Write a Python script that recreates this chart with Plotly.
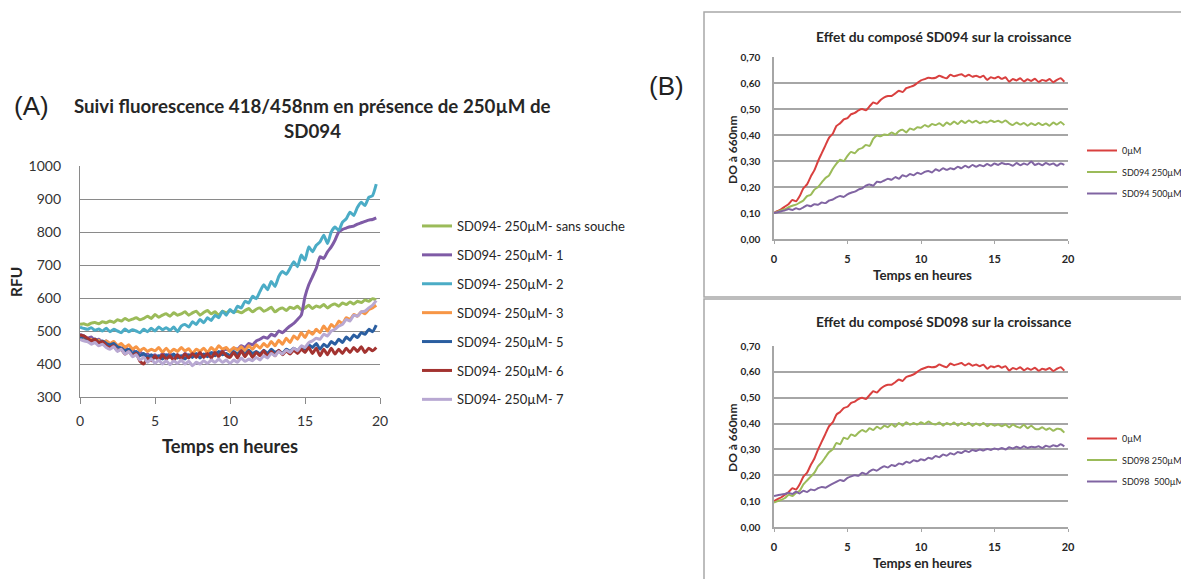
import plotly.graph_objects as go

W, H = 1189, 579

# ---------------- data ----------------
hours = [i * 0.25 for i in range(80)]

# Panel A : RFU
rfu_sans_souche = [520, 522, 518, 524, 526, 522, 528, 525,
                   530, 526, 534, 530, 538, 532, 536, 540,
                   534, 538, 545, 538, 550, 542, 548, 552,
                   545, 555, 548, 552, 558, 548, 555, 560,
                   548, 556, 562, 552, 558, 548, 560, 555,
                   562, 558, 560, 555, 562, 568, 558, 566,
                   570, 560, 565, 572, 558, 566, 570, 562,
                   572, 568, 575, 565, 570, 578, 568, 576,
                   572, 580, 570, 578, 582, 575, 585, 580,
                   588, 582, 590, 586, 594, 590, 598, 594]
rfu_1 = [490, 485, 478, 482, 470, 475, 465, 470,
         460, 465, 455, 448, 452, 440, 445, 432,
         438, 425, 430, 422, 428, 420, 432, 425,
         430, 422, 428, 420, 432, 425, 430, 428,
         432, 425, 435, 430, 438, 432, 440, 445,
         440, 448, 445, 455, 450, 462, 458, 470,
         475, 482, 478, 490, 485, 500, 495, 505,
         515, 523, 535, 548, 604, 640, 665, 690,
         725, 720, 740, 755, 775, 800, 808, 812,
         816, 818, 824, 828, 832, 836, 838, 843]
rfu_2 = [512, 508, 505, 510, 502, 506, 500, 508,
         498, 505, 500, 495, 506, 498, 504, 500,
         495, 505, 498, 508, 500, 512, 504, 510,
         502, 512, 498, 515, 520, 512, 528, 520,
         535, 525, 540, 532, 548, 540, 560, 548,
         565, 555, 575, 570, 590, 585, 605, 598,
         620, 640, 625, 650, 635, 665, 680, 672,
         690, 710, 695, 730, 715, 755, 740, 760,
         770, 790, 765, 800, 815, 805, 830, 840,
         860, 850, 875, 890, 880, 905, 910, 945]
rfu_3 = [482, 478, 470, 475, 468, 472, 465, 470,
         462, 468, 455, 462, 450, 458, 445, 452,
         440, 448, 438, 445, 440, 450, 436, 448,
         435, 445, 438, 450, 440, 446, 432, 445,
         438, 448, 435, 450, 440, 455, 445, 450,
         438, 450, 442, 452, 440, 455, 445, 458,
         448, 462, 452, 468, 455, 472, 460, 478,
         465, 485, 475, 495, 480, 500, 490, 505,
         495, 515, 500, 520, 510, 530, 522, 540,
         535, 550, 545, 558, 552, 565, 570, 578]
rfu_5 = [478, 482, 475, 470, 476, 465, 470, 462,
         458, 462, 452, 448, 440, 445, 432, 438,
         425, 432, 420, 428, 418, 425, 415, 428,
         420, 430, 418, 425, 415, 428, 420, 432,
         418, 430, 422, 435, 425, 438, 428, 432,
         425, 438, 430, 440, 428, 442, 432, 438,
         430, 442, 432, 445, 435, 440, 432, 445,
         438, 448, 440, 452, 445, 458, 450, 462,
         445, 460, 452, 468, 460, 475, 465, 482,
         472, 488, 480, 495, 490, 505, 498, 518]
rfu_6 = [488, 485, 478, 470, 475, 465, 468, 455,
         450, 455, 440, 445, 430, 438, 425, 432,
         408, 400, 418, 410, 425, 412, 428, 415,
         425, 410, 428, 415, 430, 418, 432, 420,
         435, 420, 432, 418, 435, 422, 438, 425,
         420, 435, 418, 440, 422, 438, 420, 435,
         425, 440, 422, 438, 425, 442, 428, 440,
         430, 442, 432, 445, 435, 450, 432, 448,
         425, 445, 428, 448, 430, 445, 432, 448,
         435, 450, 438, 452, 435, 448, 440, 450]
rfu_7 = [475, 470, 468, 460, 465, 455, 460, 450,
         445, 452, 438, 445, 430, 438, 422, 428,
         412, 420, 405, 415, 402, 412, 400, 410,
         398, 410, 402, 412, 400, 408, 395, 405,
         400, 410, 402, 412, 405, 415, 405, 412,
         402, 412, 405, 418, 408, 415, 410, 420,
         412, 425, 418, 432, 425, 438, 430, 442,
         435, 448, 440, 455, 450, 465, 470, 478,
         475, 490, 485, 500, 505, 515, 520, 535,
         530, 548, 545, 558, 560, 570, 578, 592]

series_a_names = ["SD094- 250µM- sans souche", "SD094- 250µM- 1", "SD094- 250µM- 2",
                  "SD094- 250µM- 3", "SD094- 250µM- 5", "SD094- 250µM- 6", "SD094- 250µM- 7"]
series_a_values = [rfu_sans_souche, rfu_1, rfu_2, rfu_3, rfu_5, rfu_6, rfu_7]
series_a_colors = ["#9BBB59", "#7F5BA6", "#4BACC6", "#F79646", "#2A5EA0", "#A33330", "#B8A8D2"]

# Panel B : DO 660nm
do_0uM = [0.100, 0.108, 0.115, 0.125, 0.135, 0.150, 0.145, 0.165,
          0.195, 0.210, 0.240, 0.265, 0.300, 0.330, 0.360, 0.390,
          0.405, 0.435, 0.445, 0.460, 0.465, 0.480, 0.485, 0.495,
          0.500, 0.495, 0.510, 0.525, 0.520, 0.535, 0.545, 0.550,
          0.550, 0.560, 0.570, 0.565, 0.580, 0.585, 0.590, 0.600,
          0.610, 0.615, 0.620, 0.618, 0.620, 0.628, 0.622, 0.618,
          0.632, 0.626, 0.630, 0.634, 0.625, 0.632, 0.624, 0.628,
          0.622, 0.628, 0.612, 0.622, 0.618, 0.624, 0.616, 0.622,
          0.605, 0.615, 0.610, 0.618, 0.606, 0.614, 0.608, 0.616,
          0.604, 0.612, 0.608, 0.615, 0.603, 0.612, 0.618, 0.605]
do_sd094_250 = [0.100, 0.105, 0.110, 0.115, 0.122, 0.128, 0.132, 0.140,
                0.148, 0.165, 0.170, 0.190, 0.200, 0.218, 0.235, 0.245,
                0.270, 0.290, 0.305, 0.300, 0.320, 0.335, 0.330, 0.345,
                0.350, 0.362, 0.358, 0.385, 0.398, 0.395, 0.402, 0.400,
                0.410, 0.402, 0.415, 0.420, 0.410, 0.425, 0.420, 0.430,
                0.428, 0.438, 0.432, 0.442, 0.438, 0.445, 0.435, 0.448,
                0.440, 0.452, 0.442, 0.455, 0.446, 0.456, 0.448, 0.455,
                0.445, 0.452, 0.448, 0.456, 0.450, 0.455, 0.448, 0.456,
                0.445, 0.438, 0.448, 0.440, 0.446, 0.436, 0.445, 0.438,
                0.446, 0.438, 0.444, 0.436, 0.448, 0.440, 0.450, 0.438]
do_sd094_500 = [0.100, 0.103, 0.107, 0.110, 0.115, 0.112, 0.118, 0.114,
                0.122, 0.130, 0.126, 0.134, 0.132, 0.140, 0.138, 0.148,
                0.152, 0.160, 0.165, 0.162, 0.172, 0.178, 0.182, 0.190,
                0.195, 0.205, 0.210, 0.205, 0.220, 0.218, 0.225, 0.232,
                0.228, 0.238, 0.232, 0.245, 0.240, 0.250, 0.245, 0.255,
                0.250, 0.258, 0.262, 0.256, 0.268, 0.262, 0.272, 0.266,
                0.272, 0.268, 0.278, 0.272, 0.282, 0.275, 0.285, 0.278,
                0.285, 0.280, 0.288, 0.282, 0.290, 0.285, 0.292, 0.288,
                0.288, 0.282, 0.292, 0.284, 0.290, 0.286, 0.298, 0.285,
                0.290, 0.284, 0.292, 0.286, 0.290, 0.282, 0.290, 0.285]
do_sd098_250 = [0.095, 0.100, 0.105, 0.112, 0.125, 0.120, 0.132, 0.140,
                0.165, 0.180, 0.195, 0.210, 0.235, 0.250, 0.270, 0.290,
                0.300, 0.325, 0.320, 0.345, 0.340, 0.358, 0.352, 0.365,
                0.375, 0.368, 0.382, 0.375, 0.388, 0.380, 0.392, 0.386,
                0.398, 0.388, 0.402, 0.392, 0.405, 0.395, 0.402, 0.396,
                0.405, 0.398, 0.408, 0.400, 0.396, 0.404, 0.392, 0.402,
                0.395, 0.404, 0.392, 0.402, 0.394, 0.403, 0.391, 0.400,
                0.393, 0.402, 0.390, 0.398, 0.392, 0.396, 0.390, 0.396,
                0.385, 0.396, 0.388, 0.384, 0.395, 0.382, 0.392, 0.380,
                0.378, 0.386, 0.376, 0.382, 0.372, 0.380, 0.378, 0.365]
do_sd098_500 = [0.120, 0.123, 0.126, 0.128, 0.132, 0.128, 0.136, 0.130,
                0.140, 0.135, 0.145, 0.142, 0.150, 0.155, 0.152, 0.160,
                0.168, 0.175, 0.182, 0.178, 0.190, 0.196, 0.200, 0.198,
                0.210, 0.204, 0.215, 0.222, 0.218, 0.228, 0.235, 0.230,
                0.240, 0.236, 0.246, 0.242, 0.252, 0.248, 0.258, 0.254,
                0.262, 0.258, 0.268, 0.264, 0.275, 0.270, 0.280, 0.276,
                0.285, 0.280, 0.290, 0.286, 0.295, 0.290, 0.298, 0.294,
                0.300, 0.296, 0.302, 0.298, 0.304, 0.300, 0.306, 0.300,
                0.308, 0.304, 0.310, 0.305, 0.312, 0.306, 0.310, 0.308,
                0.312, 0.306, 0.314, 0.310, 0.316, 0.312, 0.320, 0.312]

b_top_names = ["0µM", "SD094 250µM", "SD094 500µM"]
b_top_values = [do_0uM, do_sd094_250, do_sd094_500]
b_bot_names = ["0µM", "SD098 250µM", "SD098  500µM"]
b_bot_values = [do_0uM, do_sd098_250, do_sd098_500]
b_colors = ["#D9403F", "#9BBB59", "#8064A2"]

# ---------------- figure ----------------
PAGE_OFFSET = 8  # default body margin of the html page


def fx(x):
    return (x - PAGE_OFFSET) / W


def fy(y):
    return 1 - (y - PAGE_OFFSET) / H


FONT = "Lato, 'Open Sans', sans-serif"
fig = go.Figure()

for name, vals, col in zip(series_a_names, series_a_values, series_a_colors):
    fig.add_trace(go.Scatter(x=hours, y=vals, name=name, mode="lines",
                             line=dict(color=col, width=3, shape="spline", smoothing=0.5),
                             xaxis="x", yaxis="y", legend="legend", legendgroup=name))
for name, vals, col in zip(b_top_names, b_top_values, b_colors):
    fig.add_trace(go.Scatter(x=hours, y=vals, name=name, mode="lines",
                             line=dict(color=col, width=2, shape="spline", smoothing=0.5),
                             xaxis="x2", yaxis="y2", legend="legend2", legendgroup="t" + name))
for name, vals, col in zip(b_bot_names, b_bot_values, b_colors):
    fig.add_trace(go.Scatter(x=hours, y=vals, name=name, mode="lines",
                             line=dict(color=col, width=2, shape="spline", smoothing=0.5),
                             xaxis="x3", yaxis="y3", legend="legend3", legendgroup="b" + name))

axis_common_x = dict(range=[0, 20], dtick=5, showgrid=False, zeroline=False, showline=True,
                     ticks="outside", fixedrange=True)
axis_common_y = dict(showgrid=True, zeroline=False, showline=True, ticks="", fixedrange=True)
BOLD_TICK_B = dict(size=10, color="#262626", family=FONT, weight="bold")

fig.update_layout(
    width=W, height=H, margin=dict(l=0, r=0, t=0, b=0, autoexpand=False),
    paper_bgcolor="white", plot_bgcolor="white",
    separators=", ",
    font=dict(family=FONT, color="#262626"),
    xaxis=dict(domain=[fx(80), fx(380)], anchor="y", linecolor="#8A8A8A", linewidth=1.3,
               tickcolor="#8A8A8A", ticklen=6, tickwidth=1.3, ticklabelstandoff=5,
               tickfont=dict(size=14, color="#333333"), **axis_common_x),
    yaxis=dict(domain=[fy(397), fy(166)], anchor="x", range=[300, 1000], dtick=100,
               gridcolor="#8A8A8A", gridwidth=1.3, linecolor="#8A8A8A", linewidth=1.3,
               ticklabelstandoff=15, tickfont=dict(size=14, color="#333333"), **axis_common_y),
    xaxis2=dict(domain=[fx(774), fx(1068)], anchor="y2", linecolor="#A6A6A6", linewidth=1.5,
                tickcolor="#A6A6A6", ticklen=3, ticklabelstandoff=6,
                tickfont=dict(size=11, color="#262626", family=FONT, weight="bold"), **axis_common_x),
    yaxis2=dict(domain=[fy(239), fy(57)], anchor="x2", range=[0, 0.70], dtick=0.1, tickformat=".2f",
                gridcolor="#A6A6A6", gridwidth=1.6, linecolor="#A6A6A6", linewidth=1.5,
                ticklabelstandoff=10, tickfont=BOLD_TICK_B, **axis_common_y),
    xaxis3=dict(domain=[fx(774), fx(1068)], anchor="y3", linecolor="#A6A6A6", linewidth=1.5,
                tickcolor="#A6A6A6", ticklen=3, ticklabelstandoff=6,
                tickfont=dict(size=11, color="#262626", family=FONT, weight="bold"), **axis_common_x),
    yaxis3=dict(domain=[fy(527), fy(346)], anchor="x3", range=[0, 0.70], dtick=0.1, tickformat=".2f",
                gridcolor="#A6A6A6", gridwidth=1.6, linecolor="#A6A6A6", linewidth=1.5,
                ticklabelstandoff=10, tickfont=BOLD_TICK_B, **axis_common_y),
    legend=dict(x=fx(417), y=fy(211), xanchor="left", yanchor="top", bgcolor="rgba(0,0,0,0)",
                font=dict(size=13, color="#262626"), tracegroupgap=9.0, itemwidth=30),
    legend2=dict(x=fx(1082), y=fy(136), xanchor="left", yanchor="top", bgcolor="rgba(0,0,0,0)",
                 font=dict(size=9, color="#262626"), tracegroupgap=2.5, itemwidth=30),
    legend3=dict(x=fx(1082), y=fy(424), xanchor="left", yanchor="top", bgcolor="rgba(0,0,0,0)",
                 font=dict(size=9, color="#262626"), tracegroupgap=2.5, itemwidth=30),
    showlegend=True,
)

# boxes around panel B charts
fig.add_shape(type="rect", xref="paper", yref="paper", x0=fx(704), x1=fx(1200), y0=fy(297), y1=fy(12),
              line=dict(color="#A8A8A8", width=1.5))
fig.add_shape(type="rect", xref="paper", yref="paper", x0=fx(704), x1=fx(1200), y0=fy(595), y1=fy(299),
              line=dict(color="#A8A8A8", width=1.5))


def ann(x, y, text, size, bold=False, angle=0, color="#262626", family=FONT):
    fig.add_annotation(x=fx(x), y=fy(y), xref="paper", yref="paper", text=text, showarrow=False,
                       xanchor="center", yanchor="middle", textangle=angle,
                       font=dict(size=size, color=color, family=family, weight="bold" if bold else "normal"))


# Panel A texts
ann(31, 106, "(A)", 26, family="Arial, 'Liberation Sans', sans-serif", color="#222222")
ann(312, 106, "Suivi fluorescence 418/458nm en présence de 250µM de", 18.7, bold=True)
ann(312, 131, "SD094", 18.7, bold=True)
ann(230, 446, "Temps en heures", 18.3, bold=True)
ann(16, 282, "RFU", 15.5, bold=True, angle=-90)

# Panel B texts
ann(667, 86, "(B)", 26, family="Arial, 'Liberation Sans', sans-serif", color="#222222")
ann(943, 36, "Effet du composé SD094 sur la croissance", 13.8, bold=True)
ann(922, 275, "Temps en heures", 13.3, bold=True)
ann(732, 150, "DO à 660nm", 12, bold=True, angle=-90)
ann(943, 321, "Effet du composé SD098 sur la croissance", 13.8, bold=True)
ann(922, 563, "Temps en heures", 13.3, bold=True)
ann(732, 438, "DO à 660nm", 12, bold=True, angle=-90)

fig.write_html("out.html")
